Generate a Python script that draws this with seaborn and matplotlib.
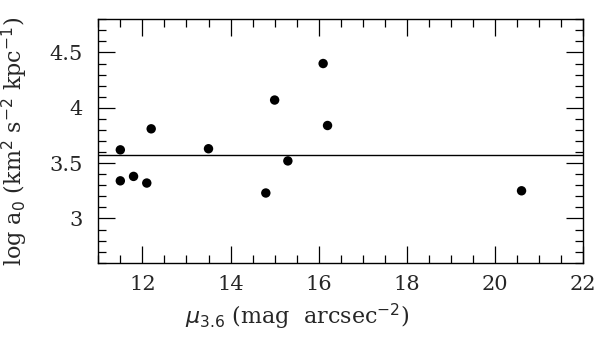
"""Acceleration scale a0 vs 3.6 micron central surface brightness."""

import matplotlib

matplotlib.use("Agg")

import matplotlib.pyplot as plt
import numpy as np
import pandas as pd
import seaborn as sns
from matplotlib.ticker import MultipleLocator

# values
mu36 = [11.5, 11.5, 11.8, 12.1, 12.2, 13.5, 14.8, 15.0, 15.3, 16.1, 16.2, 20.6]
log_a0 = [3.62, 3.34, 3.38, 3.32, 3.81, 3.63, 3.23, 4.07, 3.52, 4.40, 3.84, 3.25]
mean_log_a0 = 3.574

xlim = (11, 22)
ylim = (2.6, 4.8)

df = pd.DataFrame({"mu": mu36, "loga0": log_a0})

sns.set_style("ticks")
plt.rcParams["font.family"] = ["DejaVu Serif", "DejaVu Sans"]
plt.rcParams["mathtext.fontset"] = "dejavusans"

fig = plt.figure(figsize=(6.0, 3.44), dpi=100)
ax = fig.add_axes([0.1638, 0.2363, 0.8083, 0.7077])

sns.scatterplot(data=df, x="mu", y="loga0", color="black", s=46,
                edgecolor="none", ax=ax, zorder=3)
ax.axhline(mean_log_a0, color="black", lw=1.0)

ax.set_xlim(*xlim)
ax.set_ylim(*ylim)
ax.xaxis.set_major_locator(MultipleLocator(2))
ax.xaxis.set_minor_locator(MultipleLocator(0.5))
ax.yaxis.set_major_locator(MultipleLocator(0.5))
ax.yaxis.set_minor_locator(MultipleLocator(0.1))
ax.yaxis.set_major_formatter(plt.FuncFormatter(lambda v, _: f"{v:g}"))

ax.tick_params(which="both", direction="in", top=True, right=True,
               color="black", width=0.9, labelsize=15)
ax.tick_params(which="major", length=12)
ax.tick_params(which="minor", length=6)
ax.tick_params(axis="x", pad=9)
ax.tick_params(axis="y", pad=11)
for sp in ax.spines.values():
    sp.set_visible(True)
    sp.set_linewidth(1.0)
    sp.set_color("black")

ax.set_xlabel(r"$\mu_{3.6}$ (mag  arcsec$^{-2}$)", fontsize=16)
ax.set_ylabel(r"log a$_0$ (km$^2$ s$^{-2}$ kpc$^{-1}$)", fontsize=16)
ax.xaxis.set_label_coords(0.41, -0.16)
ax.yaxis.set_label_coords(-0.14, 0.5)

fig.savefig("out.png", dpi=100)
